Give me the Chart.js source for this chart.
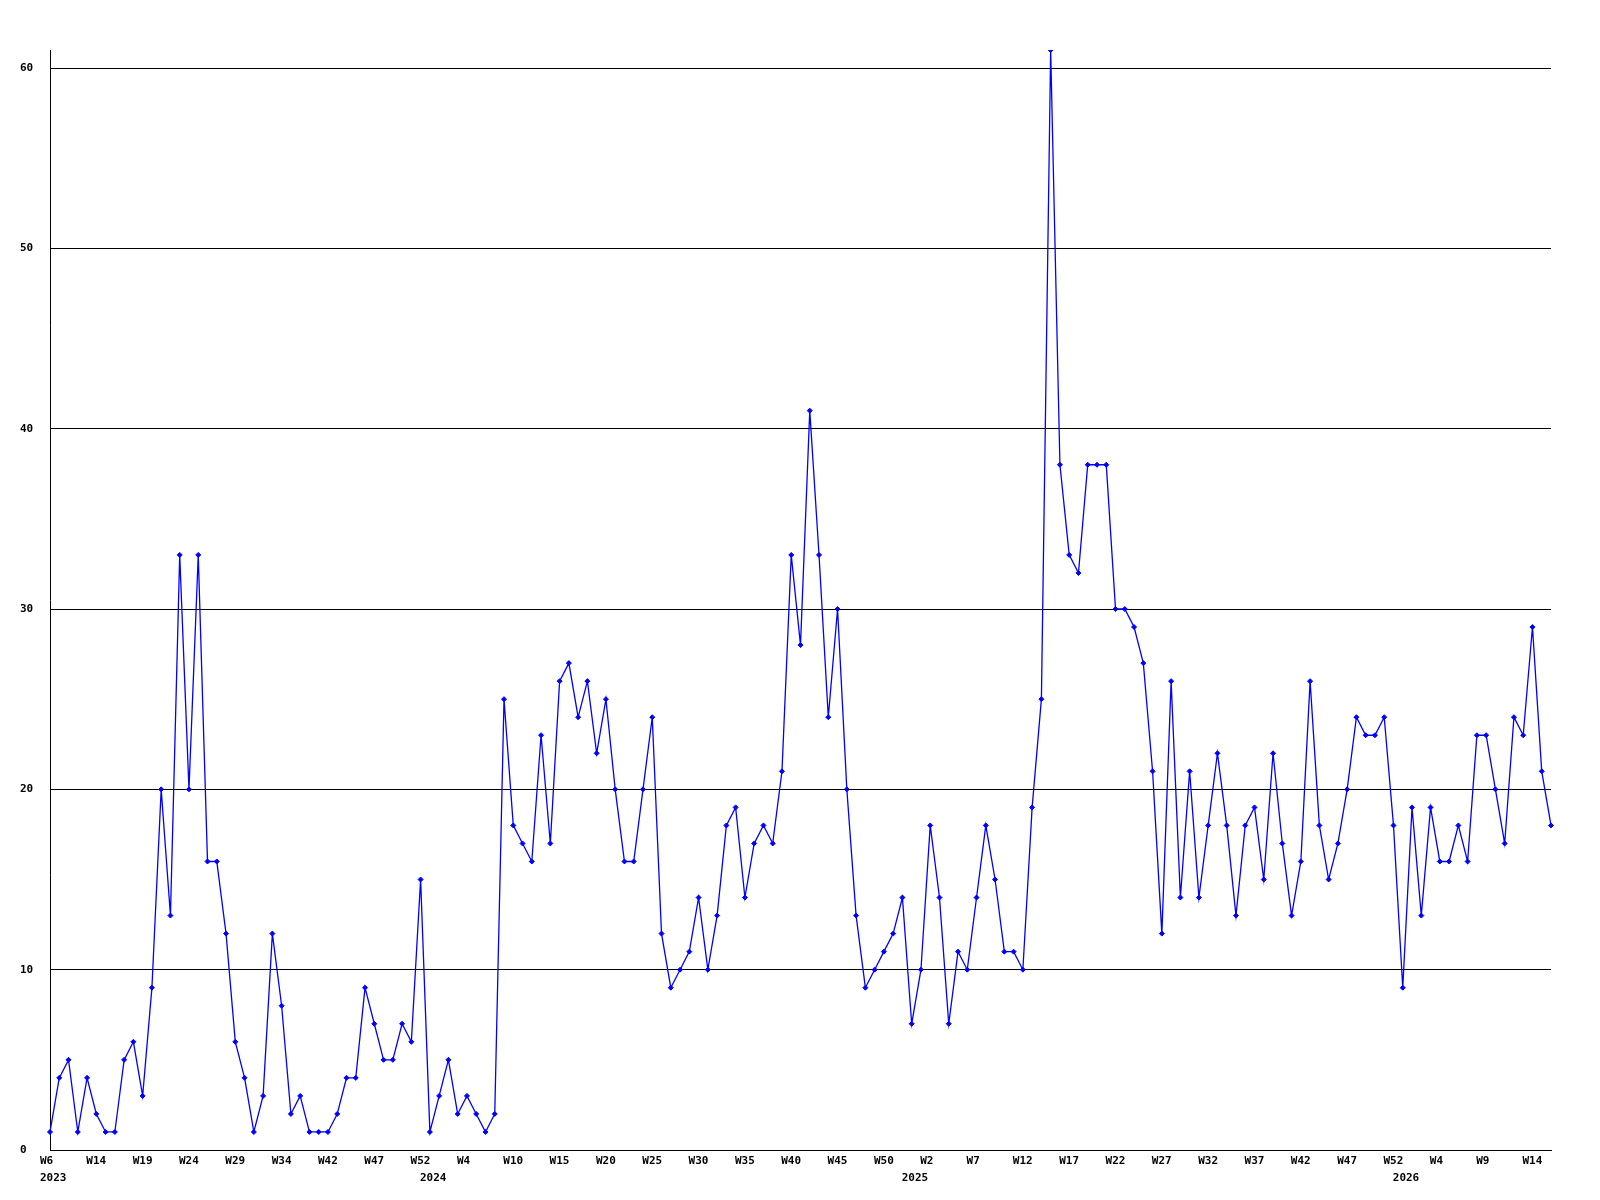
<!DOCTYPE html>
<html lang="en">
<head>
    <meta charset="UTF-8">
    <title>Weekly count</title>
    <script src="https://cdn.jsdelivr.net/npm/chart.js@4.4.0/dist/chart.umd.min.js"></script>
    <style>
        body { margin: 0; background: #fff; }
    </style>
</head>
<body>
<canvas id="chart" width="1600" height="1200"></canvas>
<script>
    // one value per week, 2023 W9 .. 2026 W15
    const counts = [
        1, 4, 5, 1, 4, 2, 1, 1, 5, 6, 3, 9, 20, 13, 33, 20, 33, 16, 16, 12,
        6, 4, 1, 3, 12, 8, 2, 3, 1, 1, 1, 2, 4, 4, 9, 7, 5, 5, 7, 6,
        15, 1, 3, 5, 2, 3, 2, 1, 2, 25, 18, 17, 16, 23, 17, 26, 27, 24, 26, 22,
        25, 20, 16, 16, 20, 24, 12, 9, 10, 11, 14, 10, 13, 18, 19, 14, 17, 18, 17, 21,
        33, 28, 41, 33, 24, 30, 20, 13, 9, 10, 11, 12, 14, 7, 10, 18, 14, 7, 11, 10,
        14, 18, 15, 11, 11, 10, 19, 25, 61, 38, 33, 32, 38, 38, 38, 30, 30, 29, 27, 21,
        12, 26, 14, 21, 14, 18, 22, 18, 13, 18, 19, 15, 22, 17, 13, 16, 26, 18, 15, 17,
        20, 24, 23, 23, 24, 18, 9, 19, 13, 19, 16, 16, 18, 16, 23, 23, 20, 17, 24, 23,
        29, 21, 18
    ];
    // a week label under every 5th point
    const weekTicks = [
        'W6', 'W14', 'W19', 'W24', 'W29', 'W34', 'W42', 'W47', 'W52',
        'W4', 'W10', 'W15', 'W20', 'W25', 'W30', 'W35', 'W40', 'W45', 'W50',
        'W2', 'W7', 'W12', 'W17', 'W22', 'W27', 'W32', 'W37', 'W42', 'W47', 'W52',
        'W4', 'W9', 'W14'
    ];
    const years = ['2023', '2024', '2025', '2026'];
    const yearStart = [0, 41, 93, 146];
    const yTicks = [0, 10, 20, 30, 40, 50, 60];

    const font = { family: 'DejaVu Sans Mono', size: 11, weight: 'bold', lineHeight: 1.5 };

    function tickLabel(i) {
        const w = i % 5 === 0 ? (weekTicks[i / 5] || '') : '';
        const y = yearStart.indexOf(i);
        if (y >= 0) return [w, years[y]];
        return w;
    }

    const ctx = document.getElementById('chart').getContext('2d');
    new Chart(ctx, {
        type: 'line',
        data: {
            labels: counts.map((c, i) => i),
            datasets: [{
                data: counts,
                borderColor: '#0000ff',
                backgroundColor: '#0000ff',
                borderWidth: 1.3,
                tension: 0,
                pointStyle: 'rectRot',
                pointRadius: 2.5,
                pointBorderWidth: 1,
                pointBorderColor: '#0000ff',
                pointBackgroundColor: '#0000ff'
            }]
        },
        options: {
            responsive: false,
            animation: false,
            layout: { padding: { left: 20, top: 50, right: 49, bottom: 10 } },
            plugins: { legend: { display: false }, tooltip: { enabled: false } },
            scales: {
                x: {
                    type: 'category',
                    offset: false,
                    grid: { display: false, drawTicks: false },
                    border: { display: true, color: '#000', width: 1 },
                    ticks: {
                        autoSkip: false,
                        maxRotation: 0,
                        minRotation: 0,
                        align: 'start',
                        labelOffset: -10,
                        padding: 3,
                        color: '#000',
                        font: font,
                        callback: (v, i) => tickLabel(i)
                    },
                    afterFit: s => { s.height = 40; s.paddingLeft = 0; s.paddingRight = 0; }
                },
                y: {
                    min: 0,
                    max: 61,
                    grid: { color: '#000', lineWidth: 1, drawTicks: false },
                    border: { display: true, color: '#000', width: 1 },
                    afterBuildTicks: s => { s.ticks = yTicks.map(v => ({ value: v })); },
                    ticks: {
                        crossAlign: 'far',
                        padding: 17,
                        color: '#000',
                        font: font
                    },
                    afterFit: s => { s.width = 30; s.paddingTop = 0; s.paddingBottom = 0; }
                }
            }
        }
    });
</script>
</body>
</html>
